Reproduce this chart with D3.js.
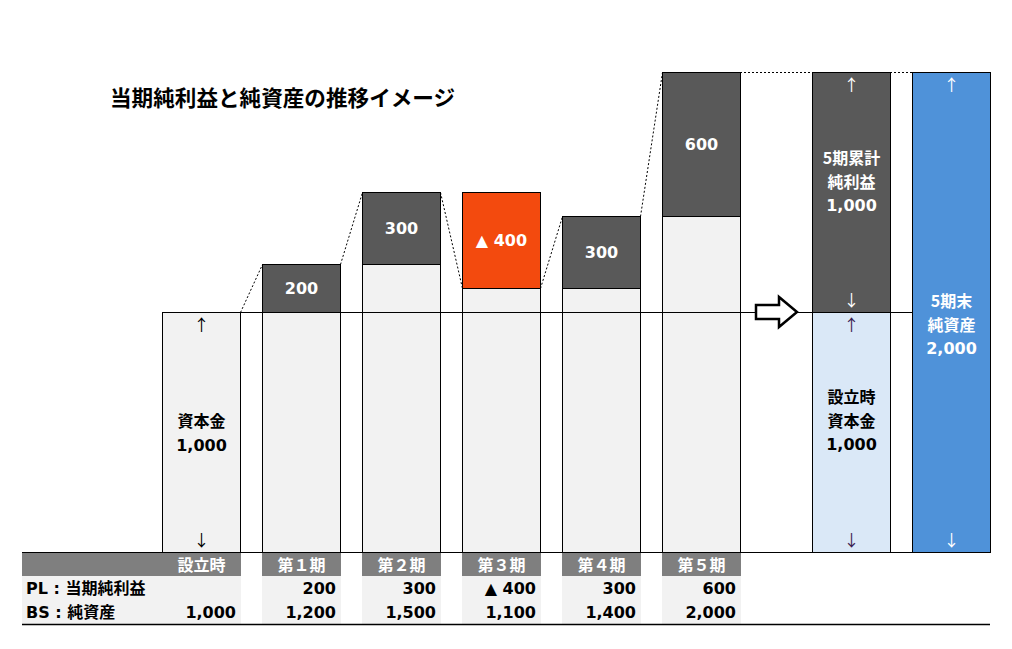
<!DOCTYPE html>
<html><head><meta charset="utf-8">
<script src="https://cdn.jsdelivr.net/npm/d3@7"></script>
<style>
body{margin:0;background:#fff;}
svg{display:block;font-family:"DejaVu Sans","Noto Sans CJK JP",sans-serif;}
</style></head>
<body><svg id="c" width="1012" height="649"></svg>
<script>
const title = "当期純利益と純資産の推移イメージ";
const periods = ["設立時","第１期","第２期","第３期","第４期","第５期"];
const plValues = [null,200,300,-400,300,600];
const bsValues = [1000,1200,1500,1100,1400,2000];
const capital = 1000;
const cumulativeProfit = 1000;
const finalEquity = 2000;
const rowLabels = ["PL : 当期純利益","BS : 純資産"];
const capitalLabel = ["資本金","1,000"];
const cumLabel = ["5期累計","純利益","1,000"];
const capLabel2 = ["設立時","資本金","1,000"];
const finalLabel = ["5期末","純資産","2,000"];

const C = {dark:"#595959", light:"#f2f2f2", red:"#f34a0e", lblue:"#dae8f7", blue:"#4f92d9", head:"#7f7f7f"};
const svg = d3.select("#c");
const y = d3.scaleLinear().domain([0,2000]).range([552,72]);
const x = d3.scaleLinear().domain([0,8]).range([162,962]);
const bw = 78;
const fmt = d3.format(",");
const plText = v => v < 0 ? "▲ " + fmt(-v) : fmt(v);

// title
svg.append("text").attr("x",110).attr("y",106).attr("font-size",21.6).attr("font-weight","bold")
  .attr("font-family","Noto Sans CJK JP").text(title);

// table backgrounds
const tTop = 552, hH = 24, rH = 24;
periods.forEach((p,i)=>{
  const x0 = i===0 ? 22 : x(i);
  const x1 = x(i)+bw+1;
  svg.append("rect").attr("x",x0).attr("y",tTop).attr("width",x1-x0).attr("height",hH).attr("fill",C.head);
  svg.append("rect").attr("x",x0).attr("y",tTop+hH).attr("width",x1-x0).attr("height",2*rH).attr("fill",C.light);
  svg.append("text").attr("x",x(i)+bw/2+0.5).attr("y",tTop+19).attr("text-anchor","middle")
    .attr("fill","#fff").attr("font-weight","bold").attr("font-size",16).attr("font-family","Noto Sans CJK JP").text(p);
  if(plValues[i]!==null)
    svg.append("text").attr("x",x1-5).attr("y",tTop+hH+18).attr("text-anchor","end")
      .attr("font-weight","bold").attr("font-size",16).text(plText(plValues[i]));
  svg.append("text").attr("x",x1-5).attr("y",tTop+hH+rH+18).attr("text-anchor","end")
    .attr("font-weight","bold").attr("font-size",16).text(fmt(bsValues[i]));
});
rowLabels.forEach((t,k)=>{
  svg.append("text").attr("x",26).attr("y",tTop+hH+18+k*rH).attr("font-weight","bold").attr("font-size",16).text(t);
});
svg.append("line").attr("x1",22).attr("x2",990).attr("y1",624.5).attr("y2",624.5).attr("stroke","#000").attr("stroke-width",1.3);

// bars
const g = svg.append("g");
function rect(x0,v0,v1,fill){
  g.append("rect").attr("x",x0+0.5).attr("y",Math.round(y(v1))+0.5).attr("width",bw)
   .attr("height",Math.round(y(v0))-Math.round(y(v1))).attr("fill",fill).attr("stroke","#000").attr("stroke-width",1);
}
rect(x(0),0,capital,C.light);
for(let i=1;i<periods.length;i++){
  const prev = bsValues[i-1], cur = bsValues[i], pl = plValues[i];
  const base = Math.min(prev,cur), top = Math.max(prev,cur);
  rect(x(i),0,base,C.light);
  rect(x(i),base,top,pl<0?C.red:C.dark);
  g.append("text").attr("x",x(i)+bw/2+0.5).attr("y",(y(base)+y(top))/2).attr("dy","0.36em")
    .attr("text-anchor","middle").attr("fill","#fff").attr("font-weight","bold").attr("font-size",16).text(plText(pl));
}
rect(x(6.5),0,capital,C.lblue);
rect(x(6.5),capital,capital+cumulativeProfit,C.dark);
rect(x(7.5),0,finalEquity,C.blue);

// horizontal lines
svg.append("line").attr("x1",x(0)).attr("x2",x(7.5)).attr("y1",y(capital)+0.5).attr("y2",y(capital)+0.5).attr("stroke","#000");
svg.append("line").attr("x1",22).attr("x2",x(7.5)+bw+1).attr("y1",552.5).attr("y2",552.5).attr("stroke","#000");

// dotted connectors: previous net assets -> current net assets
for(let i=1;i<periods.length;i++){
  svg.append("line").attr("x1",x(i-1)+bw+0.5).attr("y1",y(bsValues[i-1])+0.5).attr("x2",x(i)+0.5).attr("y2",y(bsValues[i])+0.5)
    .attr("stroke","#000").attr("stroke-dasharray","2,2");
}
svg.append("line").attr("x1",x(5)+bw).attr("x2",x(6.5)).attr("y1",y(finalEquity)+0.5).attr("y2",y(finalEquity)+0.5)
  .attr("stroke","#000").attr("stroke-dasharray","2,2");
svg.append("line").attr("x1",x(6.5)+bw).attr("x2",x(7.5)).attr("y1",y(finalEquity)+0.5).attr("y2",y(finalEquity)+0.5)
  .attr("stroke","#000").attr("stroke-dasharray","2,2");

// labels in bars
function lines(cx, ys, arr, color){
  arr.forEach((t,k)=>{
    svg.append("text").attr("x",cx).attr("y",ys[k]).attr("dy","0.36em").attr("text-anchor","middle")
      .attr("fill",color).attr("font-weight","bold").attr("font-size",16)
      .attr("font-family", /^[0-9,]+$/.test(t) ? "DejaVu Sans" : "Noto Sans CJK JP").text(t);
  });
}
function arrow(cx, cy, ch, color){
  svg.append("text").attr("x",cx).attr("y",cy).attr("dy","0.36em").attr("text-anchor","middle")
    .attr("fill",color).attr("font-size",16).attr("font-family","Noto Sans CJK JP").text(ch);
}
const c0 = x(0)+bw/2+0.5, c6 = x(6.5)+bw/2+0.5, c7 = x(7.5)+bw/2+0.5;
lines(c0,[421,445],capitalLabel,"#000");
arrow(c0,325,"↑","#000"); arrow(c0,540,"↓","#000");
lines(c6,[158,182,205],cumLabel,"#fff");
arrow(c6,85,"↑","#fff"); arrow(c6,300,"↓","#fff");
lines(c6,[397,421,444],capLabel2,"#000");
arrow(c6,325,"↑","#3a2050"); arrow(c6,540,"↓","#3a2050");
lines(c7,[301,325,348],finalLabel,"#fff");
arrow(c7,85,"↑","#fff"); arrow(c7,540,"↓","#fff");

// big hollow arrow
const ax = x(6)-6, ay = y(capital);
svg.append("path")
  .attr("d",`M${ax},${ay-7} L${ax+23},${ay-7} L${ax+23},${ay-15} L${ax+41},${ay} L${ax+23},${ay+15} L${ax+23},${ay+7} L${ax},${ay+7} Z`)
  .attr("fill","#fff").attr("stroke","#000").attr("stroke-width",2.5).attr("stroke-linejoin","miter");
</script></body></html>
